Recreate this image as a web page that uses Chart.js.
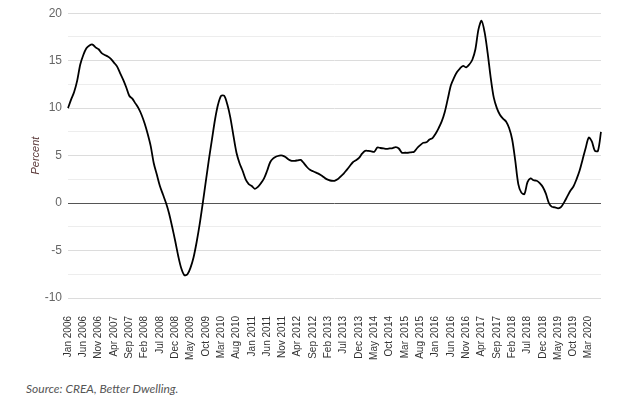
<!DOCTYPE html>
<html>
<head>
<meta charset="utf-8">
<script src="https://cdn.jsdelivr.net/npm/chart.js@4.4.1/dist/chart.umd.min.js"></script>
<style>
  body { margin: 0; background: #fff; }
  #wrap { position: relative; width: 624px; height: 408px; }
  #source {
    position: absolute; left: 26px; top: 381px;
    font-family: Lato, "Open Sans", sans-serif; font-style: italic;
    font-size: 12px; color: #555;
  }
</style>
</head>
<body>
<div id="wrap">
  <canvas id="priceChart" width="624" height="370"></canvas>
  <div id="source">Source: CREA, Better Dwelling.</div>
</div>
<script>
// Annual growth, percent, monthly from Jan 2006
const monthNames = ["Jan", "Feb", "Mar", "Apr", "May", "Jun", "Jul", "Aug", "Sep", "Oct", "Nov", "Dec"];
const firstYear = 2006;
const labelEvery = 5;
const yTicks = [-10, -5, 0, 5, 10, 15, 20];

const g2006 = [10.0, 10.9, 11.7, 12.9, 14.6, 15.6, 16.3, 16.6, 16.7, 16.4, 16.2, 15.8];
const g2007 = [15.6, 15.45, 15.2, 14.8, 14.4, 13.7, 13.0, 12.2, 11.3, 11.0, 10.5, 10.0];
const g2008 = [9.3, 8.4, 7.3, 6.0, 4.2, 3.0, 1.8, 0.9, 0.0, -1.1, -2.5, -4.0];
const g2009 = [-5.6, -6.9, -7.6, -7.5, -6.8, -5.7, -4.1, -2.2, 0.0, 2.3, 4.6, 6.7];
const g2010 = [8.8, 10.4, 11.3, 11.3, 10.4, 9.0, 7.1, 5.3, 4.2, 3.4, 2.5, 2.0];
const g2011 = [1.8, 1.5, 1.7, 2.1, 2.6, 3.4, 4.3, 4.7, 4.9, 5.0, 5.0, 4.85];
const g2012 = [4.6, 4.45, 4.45, 4.5, 4.55, 4.2, 3.8, 3.5, 3.35, 3.2, 3.05, 2.85];
const g2013 = [2.6, 2.45, 2.35, 2.35, 2.5, 2.8, 3.1, 3.5, 3.9, 4.3, 4.5, 4.75];
const g2014 = [5.2, 5.5, 5.5, 5.45, 5.4, 5.85, 5.8, 5.75, 5.7, 5.75, 5.8, 5.9];
const g2015 = [5.75, 5.3, 5.3, 5.3, 5.35, 5.4, 5.8, 6.1, 6.35, 6.4, 6.7, 6.85];
const g2016 = [7.3, 7.9, 8.6, 9.6, 11.0, 12.4, 13.2, 13.8, 14.2, 14.45, 14.3, 14.6];
const g2017 = [15.1, 16.2, 18.3, 19.2, 18.0, 15.8, 13.2, 11.1, 10.0, 9.3, 8.9, 8.6];
const g2018 = [7.9, 6.7, 4.5, 2.0, 1.1, 0.95, 2.2, 2.6, 2.4, 2.35, 2.1, 1.7];
const g2019 = [1.0, 0.0, -0.4, -0.45, -0.55, -0.4, 0.1, 0.7, 1.3, 1.75, 2.5, 3.4];
const g2020 = [4.6, 5.8, 6.9, 6.5, 5.5, 5.5, 7.5];

const growth = [].concat(g2006, g2007, g2008, g2009, g2010, g2011, g2012, g2013,
  g2014, g2015, g2016, g2017, g2018, g2019, g2020);
const labels = growth.map((v, i) => monthNames[i % 12] + " " + (firstYear + Math.floor(i / 12)));

const ctx = document.getElementById("priceChart").getContext("2d");
new Chart(ctx, {
  type: "line",
  data: {
    labels: labels,
    datasets: [
      {
        data: growth,
        borderColor: "#000",
        borderWidth: 1.8,
        pointRadius: 0,
        tension: 0.3,
        fill: false,
      },
    ],
  },
  options: {
    responsive: false,
    animation: false,
    layout: { padding: { top: 12, right: 23, left: 0, bottom: 0 } },
    plugins: {
      legend: { display: false },
      tooltip: { enabled: false },
    },
    scales: {
      x: {
        grid: { display: false },
        border: { display: false },
        afterFit: (s) => { s.height = 72; },
        ticks: {
          autoSkip: false,
          minRotation: 90,
          maxRotation: 90,
          padding: 10,
          color: "#333",
          font: { family: "'Liberation Sans Narrow', 'Liberation Sans', Arial", size: 10 },
          callback: function (val, i) {
            return i % labelEvery === 0 ? labels[i] : null;
          },
        },
      },
      y: {
        min: yTicks[0],
        max: yTicks[yTicks.length - 1],
        afterFit: (s) => { s.width = 68; },
        border: { display: false },
        grid: {
          drawTicks: false,
          color: (c) => {
            const v = c.tick.value;
            if (v === 0) return "#555";
            return yTicks.includes(v) ? "#dcdcdc" : "#ededed";
          },
        },
        ticks: {
          stepSize: 2.5,
          padding: 6,
          color: "#666",
          font: { family: "'Liberation Sans', Arial", size: 12 },
          callback: (v) => (yTicks.includes(v) ? v : ""),
        },
        title: {
          display: true,
          text: "Percent",
          color: "#5a3838",
          padding: { top: 29, bottom: 0 },
          font: { family: "'Liberation Sans', Arial", size: 11, style: "italic" },
        },
      },
    },
  },
});
</script>
</body>
</html>
